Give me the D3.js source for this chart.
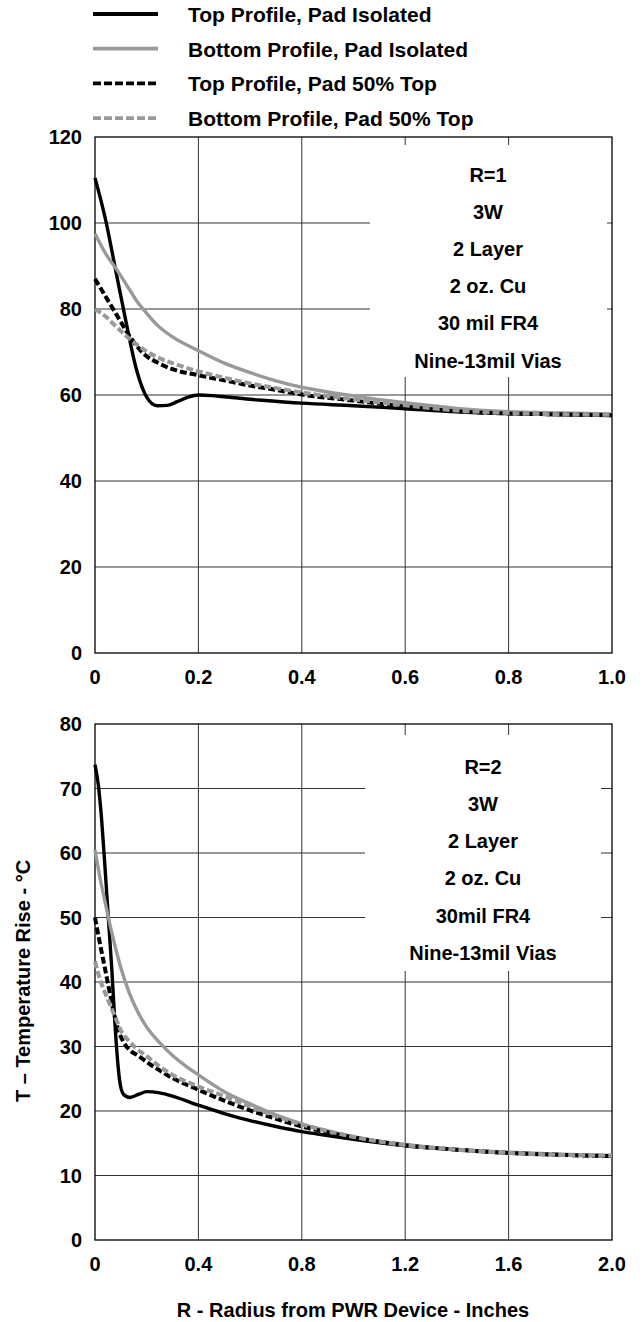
<!DOCTYPE html>
<html>
<head>
<meta charset="utf-8">
<script src="https://cdn.jsdelivr.net/npm/d3@7"></script>
<style>
  body { margin: 0; background: #fff; }
  svg text { font-family: "Liberation Sans", Arial, sans-serif; font-weight: bold; fill: #000; }
</style>
</head>
<body>
<svg id="chart" width="643" height="1322"></svg>
<script>
// legend entries
const seriesNames = [
  "Top Profile, Pad Isolated",
  "Bottom Profile, Pad Isolated",
  "Top Profile, Pad 50% Top",
  "Bottom Profile, Pad 50% Top"
];

// R=1 panel, [radius in inches, temperature rise]
const r1TopIsolated = [[0,110.5],[0.02,101],[0.04,89],[0.06,77],[0.08,66],[0.1,59.5],[0.12,57.5],[0.14,57.6],[0.16,58.5],[0.18,59.5],[0.2,60],[0.3,59],[0.4,58.1],[0.5,57.5],[0.6,56.8],[0.7,56.1],[0.8,55.7],[0.9,55.4],[1.0,55.2]];
const r1BottomIsolated = [[0,97.5],[0.02,93],[0.04,89.5],[0.06,85.8],[0.08,82],[0.1,79],[0.12,76.3],[0.15,73.5],[0.2,70.3],[0.25,67.4],[0.3,65.2],[0.35,63.3],[0.4,61.8],[0.5,59.8],[0.6,58.2],[0.7,56.9],[0.8,56.1],[0.9,55.8],[1.0,55.6]];
const r1TopHalf = [[0,87],[0.02,83],[0.04,79],[0.06,75],[0.08,71.5],[0.1,69],[0.12,67.6],[0.15,66],[0.2,64.6],[0.25,63.4],[0.3,62.2],[0.35,61.2],[0.4,60.1],[0.5,58.7],[0.6,57.3],[0.7,56.2],[0.8,55.7],[0.9,55.5],[1.0,55.3]];
const r1BottomHalf = [[0,80],[0.02,78.3],[0.04,76],[0.06,73.8],[0.08,71.8],[0.1,70.1],[0.12,68.8],[0.15,67.4],[0.2,65.5],[0.25,64],[0.3,62.7],[0.35,61.6],[0.4,60.6],[0.5,59],[0.6,57.6],[0.7,56.4],[0.8,55.8],[0.9,55.5],[1.0,55.4]];

// R=2 panel
const r2TopIsolated = [[0,73.7],[0.013,70.5],[0.026,65],[0.04,57],[0.052,49.7],[0.065,42],[0.075,35],[0.085,29],[0.095,24.8],[0.11,22.6],[0.135,22.1],[0.17,22.6],[0.2,23],[0.25,22.8],[0.3,22.3],[0.4,20.9],[0.5,19.6],[0.6,18.5],[0.7,17.6],[0.8,16.8],[0.9,16.2],[1.0,15.6],[1.2,14.6],[1.4,14],[1.6,13.5],[1.8,13.2],[2.0,13.0]];
const r2BottomIsolated = [[0,60.5],[0.02,56],[0.04,52.2],[0.06,48.5],[0.08,45.2],[0.1,42.2],[0.13,38.6],[0.16,35.8],[0.2,33],[0.25,30.6],[0.3,28.6],[0.35,27],[0.4,25.6],[0.5,23],[0.6,21.1],[0.7,19.4],[0.8,18],[0.9,16.9],[1.0,16],[1.2,14.8],[1.4,14],[1.6,13.6],[1.8,13.3],[2.0,13.1]];
const r2TopHalf = [[0,50],[0.015,46.8],[0.03,43.8],[0.05,39.8],[0.07,35.8],[0.09,32.6],[0.11,30.7],[0.13,29.6],[0.17,28.5],[0.2,27.6],[0.25,26.3],[0.3,25.1],[0.4,23.3],[0.5,21.6],[0.6,20.1],[0.7,18.8],[0.8,17.6],[0.9,16.7],[1.0,15.9],[1.2,14.7],[1.4,14],[1.6,13.5],[1.8,13.2],[2.0,13.0]];
const r2BottomHalf = [[0,43.2],[0.02,40.3],[0.04,38.2],[0.06,36.3],[0.08,34.4],[0.1,32.5],[0.13,30.9],[0.16,29.7],[0.2,28.5],[0.25,26.9],[0.3,25.6],[0.4,23.8],[0.5,22.3],[0.6,20.7],[0.7,19.2],[0.8,17.9],[0.9,16.9],[1.0,16.0],[1.2,14.7],[1.4,14],[1.6,13.5],[1.8,13.2],[2.0,13.1]];

// ticks
const r1XTicks = [0, 0.2, 0.4, 0.6, 0.8, 1.0];
const r1YTicks = [0, 20, 40, 60, 80, 100, 120];
const r2XTicks = [0, 0.4, 0.8, 1.2, 1.6, 2.0];
const r2YTicks = [0, 10, 20, 30, 40, 50, 60, 70, 80];

// annotation boxes
const r1Notes = ["R=1", "3W", "2 Layer", "2 oz. Cu", "30 mil FR4", "Nine-13mil Vias"];
const r2Notes = ["R=2", "3W", "2 Layer", "2 oz. Cu", "30mil FR4", "Nine-13mil Vias"];

const yTitle = "T \u2013 Temperature Rise - \u00b0C";
const xTitle = "R - Radius from PWR Device - Inches";

const styles = [
  { color: "#000", dash: null, w: 3.4 },
  { color: "#999", dash: null, w: 3.4 },
  { color: "#000", dash: "7,3", w: 4 },
  { color: "#999", dash: "7,3", w: 4 }
];

const svg = d3.select("#chart");
const width = 517, height = 516;

function xFmt(d) {
  return d === 0 ? "0" : d3.format(".1f")(d);
}

function drawPanel(cfg) {
  let g = svg.append("g").attr("transform", `translate(95, ${cfg.top})`);

  let x = d3.scaleLinear().domain([0, cfg.xMax]).range([0, width]);
  let y = d3.scaleLinear().domain([0, cfg.yMax]).range([height, 0]);

  // grid
  g.selectAll(".vgrid")
    .data(cfg.xTicks.slice(1, -1))
    .enter()
    .append("line")
    .attr("x1", d => x(d)).attr("x2", d => x(d))
    .attr("y1", 0).attr("y2", height)
    .attr("stroke", "#333").attr("stroke-width", 1);
  g.selectAll(".hgrid")
    .data(cfg.yTicks.slice(1, -1))
    .enter()
    .append("line")
    .attr("x1", 0).attr("x2", width)
    .attr("y1", d => y(d)).attr("y2", d => y(d))
    .attr("stroke", "#333").attr("stroke-width", 1);

  g.append("rect")
    .attr("width", width).attr("height", height)
    .attr("fill", "none").attr("stroke", "#000").attr("stroke-width", 1.3);

  // notes box hides the grid behind it
  g.append("rect")
    .attr("x", cfg.box.x).attr("y", cfg.box.y)
    .attr("width", cfg.box.w).attr("height", cfg.box.h)
    .attr("fill", "#fff");
  g.selectAll(".note")
    .data(cfg.notes)
    .enter()
    .append("text")
    .attr("x", cfg.box.tx)
    .attr("y", (d, i) => cfg.box.ty + i * cfg.box.step + 7)
    .attr("text-anchor", "middle")
    .style("font-size", "20px")
    .text(d => d);

  // tick labels
  g.selectAll(".ylab")
    .data(cfg.yTicks)
    .enter()
    .append("text")
    .attr("x", -13)
    .attr("y", d => y(d) + 7)
    .attr("text-anchor", "end")
    .style("font-size", "20px")
    .text(d => d);
  g.selectAll(".xlab")
    .data(cfg.xTicks)
    .enter()
    .append("text")
    .attr("x", d => x(d))
    .attr("y", height + 30.5)
    .attr("text-anchor", "middle")
    .style("font-size", "20px")
    .text(xFmt);

  let line = d3.line()
    .x(d => x(d[0]))
    .y(d => y(d[1]))
    .curve(d3.curveMonotoneX);

  cfg.series.forEach((s, i) => {
    g.append("path")
      .datum(s)
      .attr("d", line)
      .attr("fill", "none")
      .attr("stroke", styles[i].color)
      .attr("stroke-width", styles[i].w)
      .attr("stroke-dasharray", styles[i].dash);
  });
}

drawPanel({
  top: 137, xMax: 1, yMax: 120,
  xTicks: r1XTicks, yTicks: r1YTicks,
  series: [r1TopIsolated, r1BottomIsolated, r1TopHalf, r1BottomHalf],
  notes: r1Notes,
  box: { x: 275, y: 8, w: 237, h: 232, tx: 393, ty: 38, step: 37.1 }
});

drawPanel({
  top: 724, xMax: 2, yMax: 80,
  xTicks: r2XTicks, yTicks: r2YTicks,
  series: [r2TopIsolated, r2BottomIsolated, r2TopHalf, r2BottomHalf],
  notes: r2Notes,
  box: { x: 270, y: 11, w: 236, h: 236, tx: 388, ty: 42.7, step: 37.2 }
});

// legend
let legend = svg.append("g");
legend.selectAll("line")
  .data(seriesNames)
  .enter()
  .append("line")
  .attr("x1", 93).attr("x2", 158)
  .attr("y1", (d, i) => 14 + i * 34.7)
  .attr("y2", (d, i) => 14 + i * 34.7)
  .attr("stroke", (d, i) => styles[i].color)
  .attr("stroke-width", 3.8)
  .attr("stroke-dasharray", (d, i) => styles[i].dash ? "8,3" : null);
legend.selectAll("text")
  .data(seriesNames)
  .enter()
  .append("text")
  .attr("x", 188)
  .attr("y", (d, i) => 22 + i * 34.7)
  .style("font-size", "21px")
  .text(d => d);

// axis titles
svg.append("text")
  .attr("transform", "translate(30, 981) rotate(-90)")
  .attr("text-anchor", "middle")
  .style("font-size", "20px")
  .text(yTitle);
svg.append("text")
  .attr("x", 353)
  .attr("y", 1317)
  .attr("text-anchor", "middle")
  .style("font-size", "20px")
  .text(xTitle);
</script>
</body>
</html>
